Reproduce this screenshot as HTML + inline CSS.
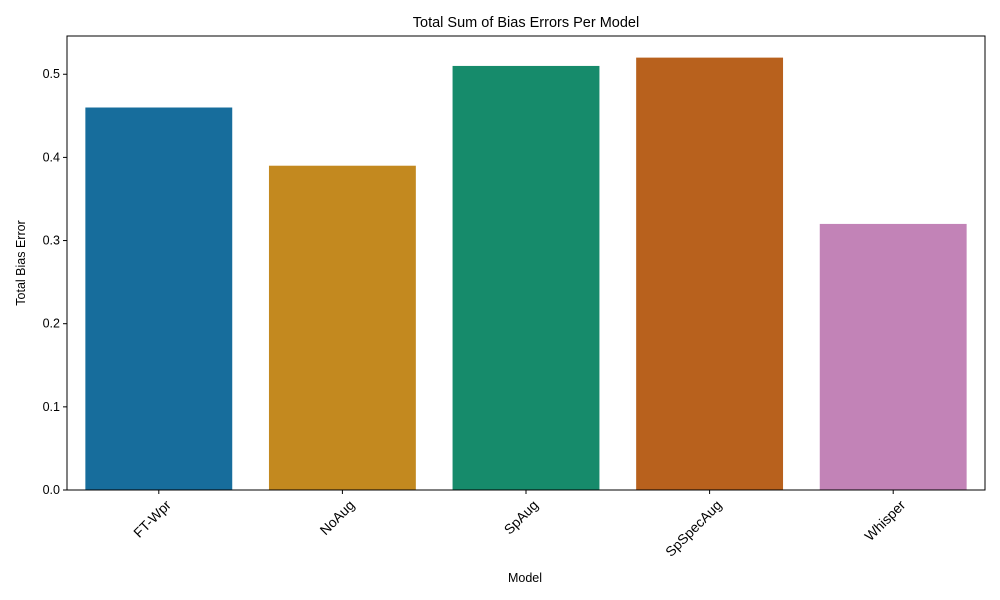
<!DOCTYPE html>
<html><head><meta charset="utf-8"><style>
html,body{margin:0;padding:0;background:#fff;}
svg{display:block;font-family:"Liberation Sans","DejaVu Sans",sans-serif;}
</style></head><body>
<svg id="chart" width="1000" height="600">
<text x="526" y="27" text-anchor="middle" font-size="14.5">Total Sum of Bias Errors Per Model</text>
<g id="bars"></g>
<g id="yticks"></g>
<g id="xticks"></g>
<rect x="67" y="36" width="918" height="454" fill="none" stroke="#000" stroke-width="1"/>
<text x="525" y="582" text-anchor="middle" font-size="12.5">Model</text>
<text transform="translate(25,263) rotate(-90)" text-anchor="middle" font-size="12.5">Total Bias Error</text>
</svg>
<script>
const categories = ["FT-Wpr","NoAug","SpAug","SpSpecAug","Whisper"];
const values = [0.46,0.39,0.51,0.52,0.32];
const colors = ["#176d9c","#c3891f","#168b6b","#b8611d","#c283b7"];
const yTicks = [0,0.1,0.2,0.3,0.4,0.5];
const yTickLabels = ["0.0","0.1","0.2","0.3","0.4","0.5"];
const NS="http://www.w3.org/2000/svg";
const L=67,R=985,T=36,B=490;
const yMax=Math.max(...values)*1.05;
const y=v=>B-(v/yMax)*(B-T);
const band=(R-L)/categories.length;
const xc=i=>L+band*(i+0.5);
const bars=document.getElementById('bars'),yt=document.getElementById('yticks'),xt=document.getElementById('xticks');
function mk(tag,attrs){const e=document.createElementNS(NS,tag);for(const k in attrs)e.setAttribute(k,attrs[k]);return e;}
values.forEach((v,i)=>{
  const w=band*0.8;
  const r=mk('rect',{x:xc(i)-w/2,y:y(v),width:w,height:B-y(v),fill:colors[i]});
  
  
  bars.appendChild(r);
  const tk=mk('line',{x1:xc(i),x2:xc(i),y1:B,y2:B+4,stroke:'#000'});
  
  
  xt.appendChild(tk);
  const t=mk('text',{x:0,y:0,'font-size':13.8,'text-anchor':'end',transform:`translate(${xc(i)+13},${B+16}) rotate(-45)`});
  t.textContent=categories[i];
  
  
  xt.appendChild(t);
});
yTicks.forEach((v,i)=>{
  const tk=mk('line',{x1:L-4,x2:L,y1:y(v),y2:y(v),stroke:'#000'});
  
  
  yt.appendChild(tk);
  const t=mk('text',{x:L-7,y:y(v)+4,'font-size':12.5,'text-anchor':'end'});
  t.textContent=yTickLabels[i];
  
  
  yt.appendChild(t);
});
</script>
</body></html>
